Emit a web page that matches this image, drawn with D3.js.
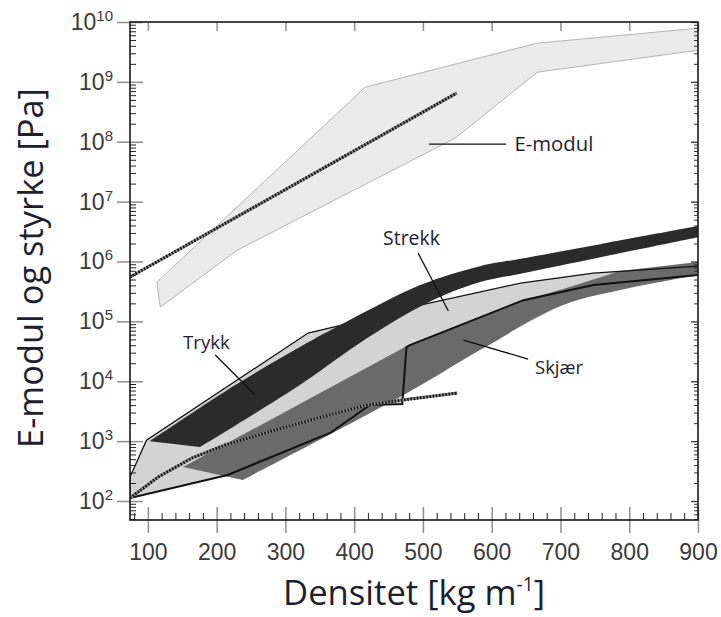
<!DOCTYPE html>
<html>
<head>
<meta charset="utf-8">
<script src="https://cdn.jsdelivr.net/npm/d3@7"></script>
<style>
  html, body { margin: 0; padding: 0; background: #fff; }
  svg { display: block; }
</style>
</head>
<body>
<svg id="chart" width="721" height="617"></svg>
<script>
// density [kg m-3], value [Pa]
const eModulBand = [
  [113, 4.53e5], [416, 8.15e8], [666, 4.43e9], [900, 7.87e9],
  [900, 3.38e9], [666, 1.45e9], [547, 1.15e8], [230, 1.55e6], [118, 1.73e5]
];
const eModulFit = [[74, 5.5e5], [549, 6.5e8]];

const trykkUpper = [
  [103, 1.0e3], [227, 8.65e3], [321, 3.72e4], [388, 9.73e4], [496, 4.04e5],
  [583, 8.37e5], [642, 1.11e6], [758, 1.95e6], [900, 3.90e6]
];
const trykkLower = [
  [900, 2.55e6], [758, 1.18e6], [642, 6.24e5], [583, 4.53e5], [506, 2.02e5],
  [419, 5.26e4], [321, 8.65e3], [176, 7.96e2]
];

const strekkUpper = [
  [74, 2.52e2], [98, 1.04e3], [333, 6.38e4], [388, 9.02e4], [496, 1.87e5],
  [642, 4.36e5], [748, 6.40e5], [900, 8.37e5]
];
const strekkLower = [
  [900, 5.93e5], [748, 4.04e5], [646, 2.26e5], [481, 4.02e4], [476, 3.72e4],
  [470, 4.16e3], [423, 4.01e3], [365, 1.37e3], [216, 2.72e2], [74, 1.12e2]
];

const skjaerUpper = [
  [151, 3.70e2], [474, 3.72e4], [646, 2.26e5], [704, 3.46e5], [787, 6.92e5],
  [900, 9.77e5]
];
const skjaerLower = [
  [900, 5.93e5], [787, 3.33e5], [704, 1.87e5], [583, 3.32e4],
  [477, 6.35e3], [238, 2.24e2]
];

const strengthFit = [
  [74, 1.12e2], [115, 2.52e2], [164, 5.22e2], [212, 8.61e2], [285, 1.53e3],
  [358, 2.62e3], [419, 4.01e3], [470, 4.85e3], [550, 6.35e3]
];

const xTicks = [100, 200, 300, 400, 500, 600, 700, 800, 900];
const yExponents = [2, 3, 4, 5, 6, 7, 8, 9, 10];

const labels = [
  { text: "E-modul", from: [509, 9.12e7], to: [621, 9.12e7], at: [633, 9.12e7], width: 79 },
  { text: "Strekk", from: [493, 1.38e6], to: [537, 1.49e5], at: [442, 2.46e6], width: 57 },
  { text: "Trykk", from: [198, 2.74e4], to: [256, 5.89e3], at: [151, 4.51e4], width: 47 },
  { text: "Skjær", from: [559, 4.88e4], to: [653, 2.35e4], at: [663, 1.73e4], width: 48 }
];

const svg = d3.select("#chart");
const plot = { left: 130, right: 698, top: 22, bottom: 520 };

const x = d3.scaleLinear().domain([74, 900]).range([plot.left, plot.right]);
const y = d3.scaleLog().domain([48.2, 1e10]).range([plot.bottom, plot.top]);

const line = d3.line().x(d => x(d[0])).y(d => y(d[1]));
const smooth = d3.line().x(d => x(d[0])).y(d => y(d[1])).curve(d3.curveCatmullRom.alpha(0.5));

// join two edges into one closed outline
const band = (upper, lower, fu, fl) => fu(upper) + "L" + fl(lower).slice(1) + "Z";

svg.append("clipPath").attr("id", "clip")
  .append("rect")
  .attr("x", plot.left).attr("y", plot.top)
  .attr("width", plot.right - plot.left).attr("height", plot.bottom - plot.top);

const g = svg.append("g").attr("clip-path", "url(#clip)");

// E-modul
g.append("path").attr("d", line(eModulBand) + "Z")
  .attr("fill", "#ebebeb").attr("stroke", "#b4b4b4").attr("stroke-width", 1);

const dotted = (data, sel) => {
  sel.append("path").attr("d", line(data)).attr("fill", "none")
    .attr("stroke", "#8c8c8c").attr("stroke-width", 3);
  sel.append("path").attr("d", line(data)).attr("fill", "none")
    .attr("stroke", "#111").attr("stroke-width", 3).attr("stroke-dasharray", "1.6 1.6");
};
dotted(eModulFit, g);

// strength
g.append("path").attr("d", line(strekkUpper.concat(strekkLower)) + "Z")
  .attr("fill", "#d3d3d3");
g.append("path").attr("d", band(skjaerUpper, skjaerLower, line, smooth)).attr("fill", "#6a6a6a");
g.append("path").attr("d", line(strekkUpper)).attr("fill", "none")
  .attr("stroke", "#111").attr("stroke-width", 1.3);
g.append("path").attr("d", line(strekkLower)).attr("fill", "none")
  .attr("stroke", "#111").attr("stroke-width", 2);
g.append("path").attr("d", line([strekkLower[strekkLower.length - 1], strekkUpper[0]]))
  .attr("stroke", "#111").attr("stroke-width", 1.3);
g.append("path").attr("d", band(trykkUpper, trykkLower, smooth, smooth)).attr("fill", "#2b2b2b");
dotted(strengthFit, g);

// pointers and labels
function fit(t, size, width) {
  const len = t.node().getComputedTextLength();
  t.attr("font-size", size * width / len);
}

labels.forEach(l => {
  svg.append("line")
    .attr("x1", x(l.from[0])).attr("y1", y(l.from[1]))
    .attr("x2", x(l.to[0])).attr("y2", y(l.to[1]))
    .attr("stroke", "#111").attr("stroke-width", 1.3);
  const t = svg.append("text")
    .attr("x", x(l.at[0])).attr("y", y(l.at[1])).attr("dy", "0.36em")
    .attr("font-family", "Open Sans").attr("font-size", 20).attr("fill", "#1e1e2e")
    .text(l.text);
  fit(t, 20, l.width);
});

// axes
const styleTicks = (sel, color, w) => {
  sel.select(".domain").remove();
  sel.selectAll(".tick line").attr("stroke", color).attr("stroke-width", w);
};

const minorX = d3.range(80, 900, 20).filter(v => v % 100 !== 0);
const minorY = [];
[1].concat(yExponents).forEach(e => {
  for (let k = 2; k <= 9; k++) minorY.push(k * Math.pow(10, e));
});
const minorYIn = minorY.filter(v => v > 48.2 && v < 1e10);
const majorY = yExponents.map(e => Math.pow(10, e));

svg.append("g").attr("transform", `translate(0,${plot.bottom})`)
  .call(d3.axisBottom(x).tickValues(minorX).tickSize(-7).tickFormat(""))
  .call(s => styleTicks(s, "#222", 1));

const xAxis = svg.append("g").attr("transform", `translate(0,${plot.bottom})`)
  .call(d3.axisBottom(x).tickValues(xTicks).tickSize(13).tickPadding(11))
  .call(s => styleTicks(s, "#8f8f8f", 1.5));
xAxis.selectAll(".tick line").attr("y1", -13);
xAxis.selectAll(".tick text")
  .attr("font-family", "Liberation Sans").attr("font-size", 23).attr("fill", "#3a3a3a");

svg.append("g").attr("transform", `translate(0,${plot.top})`)
  .call(d3.axisTop(x).tickValues(xTicks).tickSize(-9).tickFormat(""))
  .call(s => styleTicks(s, "#8f8f8f", 1.5));

svg.append("g").attr("transform", `translate(${plot.left},0)`)
  .call(d3.axisLeft(y).tickValues(minorYIn).tickSize(-6).tickFormat(""))
  .call(s => styleTicks(s, "#222", 1));

const yAxis = svg.append("g").attr("transform", `translate(${plot.left},0)`)
  .call(d3.axisLeft(y).tickValues(majorY).tickSize(13).tickPadding(4))
  .call(s => styleTicks(s, "#8f8f8f", 1.5));
yAxis.selectAll(".tick line").attr("x1", 13);
yAxis.selectAll(".tick text")
  .attr("font-family", "Liberation Sans").attr("font-size", 23).attr("fill", "#3a3a3a")
  .each(function (d) {
    const t = d3.select(this).text(null);
    t.append("tspan").text("10");
    t.append("tspan").attr("font-size", 15).attr("dy", -9).text(Math.round(Math.log10(d)));
  });

svg.append("g").attr("transform", `translate(${plot.right},0)`)
  .call(d3.axisRight(y).tickValues(minorYIn).tickSize(-4).tickFormat(""))
  .call(s => styleTicks(s, "#333", 1));
svg.append("g").attr("transform", `translate(${plot.right},0)`)
  .call(d3.axisRight(y).tickValues(majorY).tickSize(-7).tickFormat(""))
  .call(s => styleTicks(s, "#333", 1.3));

svg.append("rect")
  .attr("x", plot.left).attr("y", plot.top)
  .attr("width", plot.right - plot.left).attr("height", plot.bottom - plot.top)
  .attr("fill", "none").attr("stroke", "#1a1a1a").attr("stroke-width", 1.6);

// titles
const xt = svg.append("text")
  .attr("x", 414).attr("y", 605).attr("text-anchor", "middle")
  .attr("font-family", "Open Sans").attr("font-size", 34).attr("fill", "#1e1e2e");
xt.append("tspan").text("Densitet [kg m");
xt.append("tspan").attr("font-size", "0.55em").attr("dy", "-0.75em").text("-1");
xt.append("tspan").attr("dy", "0.4125em").text("]");
fit(xt, 34, 262);

const yt = svg.append("text")
  .attr("transform", "translate(43,268) rotate(-90)").attr("text-anchor", "middle")
  .attr("font-family", "Open Sans").attr("font-size", 34).attr("fill", "#1e1e2e")
  .text("E-modul og styrke [Pa]");
fit(yt, 34, 360);
</script>
</body>
</html>
